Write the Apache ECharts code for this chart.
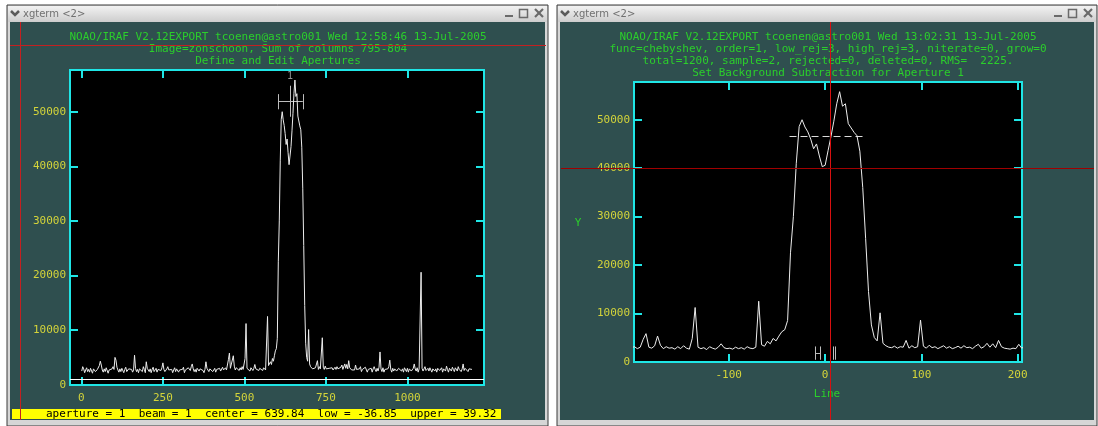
<!DOCTYPE html>
<html>
<head>
<meta charset="utf-8">
<script src="https://cdn.jsdelivr.net/npm/echarts@6/dist/echarts.min.js"></script>
<style>
  html, body { margin: 0; padding: 0; background: #ffffff; }
  #chart { width: 1098px; height: 426px; }
</style>
</head>
<body>
<div id="chart"></div>
<script>
// Summed flux of columns 795-804, one value every third image column (1, 4, 7, ... 1198)
const firstColumn = 1;
const columnStep = 3;
const profile = [
  2500, 3300, 2900, 2200, 2700, 3100, 2400, 2800, 2300, 3000, 2700, 2100, 2900, 3200, 2400, 2500, 2800, 3000, 3500, 4300,
  3600, 2700, 2300, 2900, 2400, 3100, 2800, 2100, 2700, 3000, 2400, 2900, 3300, 2800, 5000, 4500, 3200, 2700, 2300, 2900,
  2400, 3000, 2700, 2200, 2800, 3200, 2400, 2100, 2900, 2700, 3100, 2800, 2300, 2700, 5400, 3000, 2400, 2800, 2200, 2900,
  2700, 3100, 2400, 3300, 2800, 2200, 4200, 3000, 2700, 2400, 2900, 2200, 2800, 3200, 2400, 2700, 3000, 2300, 2800, 2500,
  2900, 2600, 3100, 4000, 2800, 2400, 2200, 2900, 3300, 2700, 2400, 3000, 2800, 2200, 2700, 3100, 2400, 2900, 2800, 2300,
  2700, 3000, 2400, 2800, 3200, 2200, 2700, 2900, 2400, 3100, 2800, 2600, 3300, 3800, 2900, 2400, 2800, 2300, 3000, 2700,
  2500, 2900, 2800, 3100, 2600, 2200, 2800, 4200, 3000, 2700, 2400, 2900, 3200, 2800, 2400, 2700, 3000, 2300, 2800, 2900,
  2700, 3000, 2500, 2800, 3200, 2700, 2900, 3100, 2700, 3000, 4600, 5800, 3000, 2800, 3300, 5300, 3400, 2700, 3100, 2800,
  2900, 2600, 3100, 2700, 3300, 2800, 2600, 4800, 11200, 3000, 2700, 2900, 2500, 3100, 2800, 2600, 3000, 3700, 2900, 2700,
  2800, 2600, 3000, 2700, 2900, 2600, 3100, 2800, 2700, 3000, 12500, 3500, 3200, 4200, 3700, 4800, 4300, 5300, 6200, 6600,
  8500, 22500, 30000, 41000, 48600, 50000, 48500, 47500, 46000, 44000, 45000, 42500, 40300, 40600, 43600, 46500, 49700, 53300, 55800, 52800,
  53300, 49200, 48300, 47400, 46700, 43500, 36000, 25500, 14500, 7600, 5000, 4300, 10100, 3800, 3300, 3000, 2900, 3200, 2800, 3100,
  3000, 4400, 2800, 3300, 2900, 3100, 8600, 3200, 2800, 3400, 2900, 3100, 2700, 3000, 3300, 2800, 3100, 2700, 2900, 3200,
  2800, 3300, 2900, 3000, 2700, 3200, 3600, 2800, 3100, 3800, 3000, 3700, 2900, 4400, 3100, 2800, 2700, 2600, 2800, 2700,
  3600, 2800, 3100, 2500, 2900, 3300, 2400, 2800, 3000, 2500, 3200, 2900, 2300, 2800, 3100, 2500, 3000, 2300, 2900, 3300,
  2800, 2400, 3000, 2500, 3200, 6000, 2900, 2400, 3100, 2300, 2800, 3000, 2500, 2900, 3300, 4500, 2800, 2300, 3000, 2500,
  2900, 3100, 2500, 2300, 3000, 2800, 3300, 2500, 2900, 2300, 3100, 2800, 2400, 3000, 2300, 2900, 3200, 2500, 2800, 3000,
  3800, 2900, 2500, 3100, 2300, 2900, 3200, 20600, 3000, 2500, 2900, 3300, 2600, 2300, 3000, 2500, 3100, 2800, 2300, 2900,
  3200, 2500, 2900, 2300, 3000, 3300, 2600, 2500, 3100, 2300, 2900, 3000, 2500, 3400, 2800, 2300, 3000, 2900, 2500, 3200,
  2800, 2400, 3100, 2900, 2500, 3300, 2800, 3000, 2400, 2900, 3800, 2600, 3000, 2800, 3200, 2400, 2900, 3100, 2600, 2800
];

// Aperture 1 as reported on the status line
const aperture = { number: 1, center: 639.84, low: -36.85, upper: 39.32 };
// Aperture marker heights (flux units) drawn above the profile
const apertureBar = 51830;
const apertureCap = [50440, 53220];
const apertureCenterMark = [49080, 54760];
const apertureLabelLevel = 56400;
// Horizontal reference line in the aperture editor
const referenceLevel = 1000;
// Background fit level shown as dashed line across the aperture
const fitLevel = 46500;
// Background sample region markers (lines relative to centre) and their span
const sampleMarks = [-10, -5, 8.5, 11];
const sampleSpan = [400, 3150];

// Tick labels
const columnTicks = [0, 250, 500, 750, 1000];
const fluxTicks = [0, 10000, 20000, 30000, 40000, 50000];
const lineTicks = [-100, 0, 100, 200];

const CYAN = '#1fe6e6';
const YELLOW = '#d4d43a';
const GREEN = '#2bcf2b';
const TEAL = '#2f4f4f';
const MONO = '"DejaVu Sans Mono", "Liberation Mono", monospace';

const columnData = profile.map((v, i) => [firstColumn + i * columnStep, v]);
const lineData = profile.map((v, i) => [firstColumn + i * columnStep - aperture.center, v]);

function frameAxis(opts) {
  return Object.assign({
    type: 'value',
    axisLine: { show: false, onZero: false },
    splitLine: { show: false },
    axisTick: { show: true, inside: true, length: 8, customValues: opts.ticks,
                lineStyle: { color: CYAN, width: 2 } },
    axisLabel: { show: opts.labels, customValues: opts.ticks, color: YELLOW,
                 fontFamily: MONO, fontSize: 11, margin: opts.margin || 8,
                 formatter: v => String(v) }
  }, opts.extra);
}

const chart = echarts.init(document.getElementById('chart'), null, { renderer: 'canvas' });

const apLow = aperture.center + aperture.low;
const apUp = aperture.center + aperture.upper;
const greyMark = { color: '#bdbdbd', width: 1, opacity: 1 };

const sampleSegments = sampleMarks.map(x => ({ coords: [[x, sampleSpan[0]], [x, sampleSpan[1]]] }));
sampleSegments.push({ coords: [[sampleMarks[0], (sampleSpan[0] + sampleSpan[1]) / 2], [sampleMarks[1], (sampleSpan[0] + sampleSpan[1]) / 2]] });

function windowChrome(x0, x1) {
  const w = x1 - x0;
  return [
    { type: 'rect', z: -20, shape: { x: x0, y: 5, width: w, height: 421 },
      style: { fill: '#d6d6d6', stroke: '#3a3a3a', lineWidth: 1 } },
    { type: 'rect', z: -19, shape: { x: x0 + 1, y: 6, width: w - 2, height: 16 },
      style: { fill: new echarts.graphic.LinearGradient(0, 0, 0, 1, [
        { offset: 0, color: '#f2f2f2' }, { offset: 1, color: '#cdcdcd' }]) } },
    { type: 'rect', z: -18, shape: { x: x0 + 3, y: 22, width: w - 6, height: 398 },
      style: { fill: TEAL } },
    { type: 'polyline', z: -17, shape: { points: [[x0 + 4, 11], [x0 + 8, 15], [x0 + 12, 11]] },
      style: { stroke: '#5a5a5a', lineWidth: 2.5, fill: null } },
    { type: 'text', z: -17, x: x0 + 16, y: 14,
      style: { text: 'xgterm <2>', fill: '#707070', font: '10px "DejaVu Sans", sans-serif',
               textVerticalAlign: 'middle' } },
    { type: 'rect', z: -17, shape: { x: x1 - 43, y: 15, width: 8, height: 2 },
      style: { fill: '#6a6a6a' } },
    { type: 'rect', z: -17, shape: { x: x1 - 28.5, y: 9.5, width: 8, height: 8 },
      style: { fill: null, stroke: '#6a6a6a', lineWidth: 1.5 } },
    { type: 'polyline', z: -17, shape: { points: [[x1 - 13, 9], [x1 - 5, 17]] },
      style: { stroke: '#6a6a6a', lineWidth: 2.2 } },
    { type: 'polyline', z: -17, shape: { points: [[x1 - 13, 17], [x1 - 5, 9]] },
      style: { stroke: '#6a6a6a', lineWidth: 2.2 } }
  ];
}

function title(text, x, y) {
  return { type: 'text', z: 5, x: x, y: y,
           style: { text: text, fill: GREEN, font: '11px ' + MONO,
                    textAlign: 'center', textVerticalAlign: 'middle' } };
}

function redLine(x1, y1, x2, y2, color) {
  return { type: 'line', z: 100, shape: { x1: x1, y1: y1, x2: x2, y2: y2 },
           style: { stroke: color, lineWidth: 1 } };
}

const graphics = [].concat(
  windowChrome(7, 548),
  windowChrome(557, 1097),
  [
    title('NOAO/IRAF V2.12EXPORT tcoenen@astro001 Wed 12:58:46 13-Jul-2005', 278, 37),
    title('Image=zonschoon, Sum of columns 795-804', 278, 49),
    title('Define and Edit Apertures', 278, 61),
    title('NOAO/IRAF V2.12EXPORT tcoenen@astro001 Wed 13:02:31 13-Jul-2005', 828, 37),
    title('func=chebyshev, order=1, low_rej=3, high_rej=3, niterate=0, grow=0', 828, 49),
    title('total=1200, sample=2, rejected=0, deleted=0, RMS=  2225.', 828, 61),
    title('Set Background Subtraction for Aperture 1', 828, 73),
    { type: 'text', z: 5, x: 578, y: 223,
      style: { text: 'Y', fill: GREEN, font: '11px ' + MONO, textAlign: 'center', textVerticalAlign: 'middle' } },
    { type: 'text', z: 5, x: 827, y: 394,
      style: { text: 'Line', fill: GREEN, font: '11px ' + MONO, textAlign: 'center', textVerticalAlign: 'middle' } },
    { type: 'rect', z: 5, shape: { x: 12, y: 409, width: 489, height: 10 }, style: { fill: '#ffff00' } },
    { type: 'text', z: 6, x: 46, y: 414,
      style: { text: 'aperture = 1  beam = 1  center = 639.84  low = -36.85  upper = 39.32',
               fill: '#000000', font: '11px ' + MONO, textVerticalAlign: 'middle' } },
    redLine(20.5, 22, 20.5, 420, '#c42020'),
    redLine(10, 45.5, 546, 45.5, '#c42020'),
    redLine(830.5, 22, 830.5, 420, '#d81010'),
    redLine(561, 168.5, 1094, 168.5, '#a00000')
  ]
);

chart.setOption({
  backgroundColor: '#ffffff',
  animation: false,
  graphic: { elements: graphics },
  grid: [
    { left: 70, top: 70, width: 414, height: 315, show: true, backgroundColor: '#000000',
      borderColor: CYAN, borderWidth: 2, containLabel: false },
    { left: 634, top: 82, width: 388, height: 280, show: true, backgroundColor: '#000000',
      borderColor: CYAN, borderWidth: 2, containLabel: false }
  ],
  xAxis: [
    frameAxis({ ticks: columnTicks, labels: true, extra: { gridIndex: 0, position: 'bottom', min: -35, max: 1235 } }),
    frameAxis({ ticks: columnTicks, labels: false, extra: { gridIndex: 0, position: 'top', min: -35, max: 1235 } }),
    frameAxis({ ticks: lineTicks, labels: true, extra: { gridIndex: 1, position: 'bottom', min: -198.3, max: 204.5 } }),
    frameAxis({ ticks: lineTicks, labels: false, extra: { gridIndex: 1, position: 'top', min: -198.3, max: 204.5 } })
  ],
  yAxis: [
    frameAxis({ ticks: fluxTicks, labels: true, margin: 4, extra: { gridIndex: 0, position: 'left', min: -55, max: 57640 } }),
    frameAxis({ ticks: fluxTicks, labels: false, extra: { gridIndex: 0, position: 'right', min: -55, max: 57640 } }),
    frameAxis({ ticks: fluxTicks, labels: true, margin: 4, extra: { gridIndex: 1, position: 'left', min: -60, max: 57800 } }),
    frameAxis({ ticks: fluxTicks, labels: false, extra: { gridIndex: 1, position: 'right', min: -60, max: 57800 } })
  ],
  series: [
    {
      type: 'line', xAxisIndex: 0, yAxisIndex: 0, data: columnData,
      showSymbol: false, clip: true, silent: true,
      lineStyle: { color: '#ececec', width: 1 },
      markLine: {
        symbol: 'none', silent: true, label: { show: false },
        lineStyle: { color: '#ffffff', type: 'solid', width: 1 },
        data: [{ yAxis: referenceLevel }]
      }
    },
    {
      type: 'lines', coordinateSystem: 'cartesian2d', xAxisIndex: 0, yAxisIndex: 0,
      silent: true, lineStyle: greyMark,
      data: [
        { coords: [[apLow, apertureBar], [apUp, apertureBar]] },
        { coords: [[apLow, apertureCap[0]], [apLow, apertureCap[1]]] },
        { coords: [[apUp, apertureCap[0]], [apUp, apertureCap[1]]] },
        { coords: [[aperture.center, apertureCenterMark[0]], [aperture.center, apertureCenterMark[1]]] }
      ]
    },
    {
      type: 'scatter', xAxisIndex: 0, yAxisIndex: 0, silent: true, symbolSize: 0,
      data: [[aperture.center, apertureLabelLevel]],
      label: { show: true, position: 'inside', formatter: String(aperture.number),
               color: '#b8b8b8', fontFamily: MONO, fontSize: 10 }
    },
    {
      type: 'line', xAxisIndex: 2, yAxisIndex: 2, data: lineData,
      showSymbol: false, clip: true, silent: true,
      lineStyle: { color: '#ececec', width: 1 }
    },
    {
      type: 'lines', coordinateSystem: 'cartesian2d', xAxisIndex: 2, yAxisIndex: 2, silent: true,
      lineStyle: { color: '#dcdcdc', width: 1, opacity: 1, type: [7, 4] },
      data: [{ coords: [[aperture.low, fitLevel], [aperture.upper, fitLevel]] }]
    },
    {
      type: 'lines', coordinateSystem: 'cartesian2d', xAxisIndex: 2, yAxisIndex: 2, silent: true,
      lineStyle: greyMark,
      data: sampleSegments
    }
  ]
});
</script>
</body>
</html>
